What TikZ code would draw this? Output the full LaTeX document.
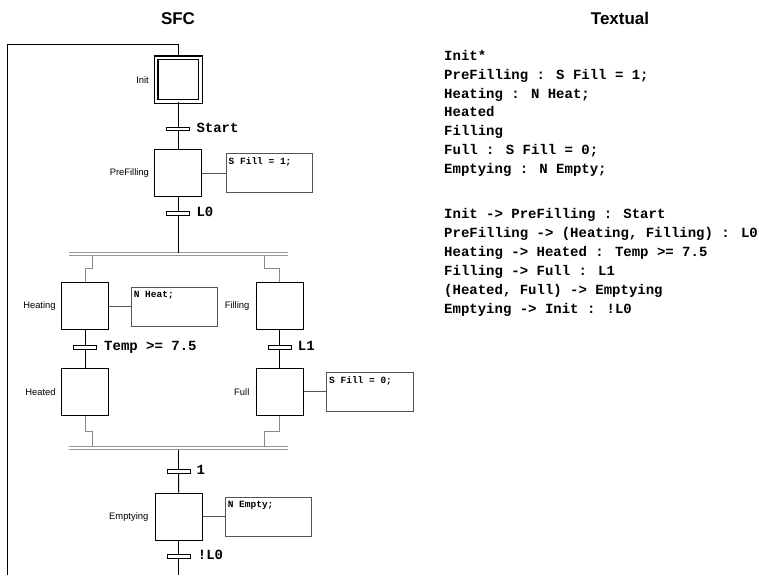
\documentclass[tikz,border=0pt]{standalone}
\usepackage{fontspec}
\setmainfont{Liberation Sans}
\newfontfamily\monof{Liberation Mono}
\definecolor{jogc}{HTML}{8A8A8A}
\definecolor{barc}{HTML}{999999}
\definecolor{actc}{HTML}{555555}
\begin{document}
\begin{tikzpicture}[x=1pt,y=-1pt,
  stepbox/.style={draw=black,line width=1.3pt,minimum width=47pt,minimum height=47pt,inner sep=0pt},
  initstep/.style={draw=black,line width=1.3pt,double,double distance=2.4pt,minimum width=44.3pt,minimum height=43.6pt,inner sep=0pt},
  trans/.style={draw=black,fill=white,line width=1pt,minimum width=23pt,minimum height=3.6pt,inner sep=0pt},
  translabel/.style={font=\monof\bfseries\fontsize{14}{16}\selectfont,anchor=west,inner sep=0pt,text height=8pt,text depth=2pt},
  actbox/.style={draw=actc,line width=0.9pt,minimum width=86.5pt,minimum height=39pt,inner sep=0pt},
  acttext/.style={font=\monof\bfseries\fontsize{9.5}{11}\selectfont,anchor=north west,inner sep=0pt},
  stepname/.style={font=\fontsize{9.4}{11}\selectfont,anchor=east,inner sep=0pt},
  code/.style={font=\monof\bfseries\fontsize{14}{16}\selectfont,anchor=west,inner sep=0pt,text height=8pt,text depth=2pt},
  title/.style={font=\bfseries\fontsize{17}{20}\selectfont,inner sep=0pt},
  link/.style={draw=black,line width=1pt},
  jog/.style={draw=jogc,line width=1pt},
  actlink/.style={draw=actc,line width=1pt},
  dbar/.style={draw=barc,line width=1.2pt}]
\useasboundingbox (0,0) rectangle (759,575);

% titles
\node[title] (tSFC) at (178,18.5) {SFC};
\node[title] (tTxt) at (620,18.5) {Textual};

% steps
\node[initstep] (Init) at (178.3,79.7) {};
\node[stepbox] (PreFilling) at (178.3,173.3) {};
\node[stepbox] (Heating) at (85,306.3) {};
\node[stepbox] (Filling) at (279.7,306.3) {};
\node[stepbox] (Heated) at (85,391.7) {};
\node[stepbox] (Full) at (279.7,391.7) {};
\node[stepbox] (Emptying) at (178.7,516.7) {};

% step names
\node[stepname] (nInit) at (149,79.7) {Init};
\node[stepname] (nPre) at ([xshift=-5pt]PreFilling.west) {PreFilling};
\node[stepname] (nHeating) at ([xshift=-5pt]Heating.west) {Heating};
\node[stepname] (nFilling) at ([xshift=-6pt]Filling.west) {Filling};
\node[stepname] (nHeated) at ([xshift=-5pt]Heated.west) {Heated};
\node[stepname] (nFull) at ([xshift=-6pt]Full.west) {Full};
\node[stepname] (nEmpty) at ([xshift=-6pt]Emptying.west) {Emptying};

% transitions
\node[trans] (tStart) at (178.3,129) {};
\node[trans] (tL0) at (178.3,213.3) {};
\node[trans] (tTemp) at (85,347.3) {};
\node[trans] (tL1) at (279.7,347.3) {};
\node[trans] (tOne) at (178.5,471.7) {};
\node[trans] (tNL0) at (178.7,556.7) {};

\node[translabel] (lStart) at ([xshift=6pt]tStart.east) {Start};
\node[translabel] (lL0) at ([xshift=6pt]tL0.east) {L0};
\node[translabel] (lTemp) at ([xshift=7pt]tTemp.east) {Temp >= 7.5};
\node[translabel] (lL1) at ([xshift=6pt]tL1.east) {L1};
\node[translabel] (lOne) at ([xshift=6pt]tOne.east) {1};
\node[translabel] (lNL0) at ([xshift=7pt]tNL0.east) {!L0};

% action boxes
\node[actbox] (aPre) at (269.2,173.3) {};
\node[actbox] (aHeat) at (174.3,306.7) {};
\node[actbox] (aFull) at (369.7,392.2) {};
\node[actbox] (aEmpty) at (268.3,517) {};
\node[acttext] at ([shift={(3,4)}]aPre.north west) {S Fill = 1;};
\node[acttext] at ([shift={(3,4)}]aHeat.north west) {N Heat;};
\node[acttext] at ([shift={(3,4)}]aFull.north west) {S Fill = 0;};
\node[acttext] at ([shift={(3,4)}]aEmpty.north west) {N Empty;};

\draw[actlink] (PreFilling.east) -- (PreFilling.east -| aPre.west);
\draw[actlink] (Heating.east) -- (Heating.east -| aHeat.west);
\draw[actlink] (Full.east) -- (Full.east -| aFull.west);
\draw[actlink] (Emptying.east) -- (Emptying.east -| aEmpty.west);

% divergence / convergence bars
\coordinate (divL) at (69.3,252.5);
\coordinate (divR) at (287.7,252.5);
\coordinate (convL) at (69.3,446.7);
\coordinate (convR) at (287.7,446.7);
\draw[dbar] (divL) -- (divR);
\draw[dbar] ([yshift=-3pt]divL) -- ([yshift=-3pt]divR);
\draw[dbar] (convL) -- (convR);
\draw[dbar] ([yshift=-3pt]convL) -- ([yshift=-3pt]convR);

% main flow links
\coordinate (loopTop) at (178.3,44.3);
\coordinate (loopCorner) at (7.3,44.3);
\coordinate (loopBottom) at (7.3,575);
\coordinate (flowEnd) at (178.7,575);
\draw[link] (loopBottom) -- (loopCorner) -- (loopTop) -- (Init.north);
\draw[link] (Init.south) -- (tStart);
\draw[link] (tStart) -- (PreFilling.north);
\draw[link] (PreFilling.south) -- (tL0);
\draw[link] (tL0) -- (178.3,252.5);
\draw[link] (Heating.south) -- (tTemp);
\draw[link] (tTemp) -- (Heated.north);
\draw[link] (Filling.south) -- (tL1);
\draw[link] (tL1) -- (Full.north);
\draw[link] (178.5,449.7) -- (tOne);
\draw[link] (tOne) -- (Emptying.north);
\draw[link] (Emptying.south) -- (tNL0);
\draw[link] (tNL0) -- (flowEnd);

% jogs
\draw[jog] (92.7,255.5) -- (92.7,268.3) -- (85,268.3) -- (Heating.north);
\draw[jog] (264.3,255.5) -- (264.3,268.3) -- (279.7,268.3) -- (Filling.north);
\draw[jog] (Heated.south) -- (85,431) -- (92.7,431) -- (92.7,446.7);
\draw[jog] (Full.south) -- (279.7,431) -- (264.3,431) -- (264.3,446.7);

% textual
\node[code] (c1) at (444,57.5) {Init*};
\node[code] (c2) at (444,76.3) {PreFilling : S Fill = 1;};
\node[code] (c3) at (444,95.2) {Heating : N Heat;};
\node[code] (c4) at (444,114) {Heated};
\node[code] (c5) at (444,132.8) {Filling};
\node[code] (c6) at (444,151.7) {Full : S Fill = 0;};
\node[code] (c7) at (444,170.5) {Emptying : N Empty;};
\node[code] (d1) at (444,215.5) {Init -> PreFilling : Start};
\node[code] (d2) at (444,234.5) {PreFilling -> (Heating, Filling) : L0};
\node[code] (d3) at (444,253.5) {Heating -> Heated : Temp >= 7.5};
\node[code] (d4) at (444,272.5) {Filling -> Full : L1};
\node[code] (d5) at (444,291.5) {(Heated, Full) -> Emptying};
\node[code] (d6) at (444,310.5) {Emptying -> Init : !L0};
\end{tikzpicture}
\end{document}
